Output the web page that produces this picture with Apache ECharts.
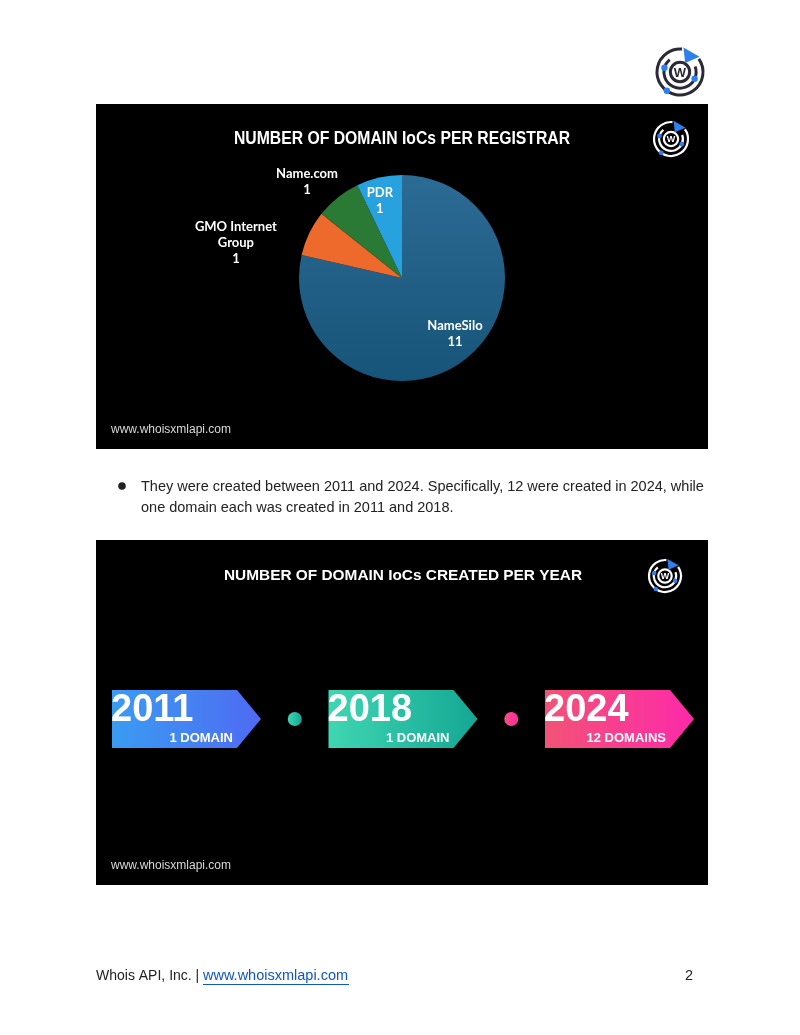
<!DOCTYPE html>
<html>
<head>
<meta charset="utf-8">
<script src="https://cdn.jsdelivr.net/npm/echarts@6/dist/echarts.min.js"></script>
<style>
html, body { margin: 0; padding: 0; background: #fff; }
#main { width: 800px; height: 1035px; }
</style>
</head>
<body>
<div id="main"></div>
<script>
// registrar pie
var registrars = ['NameSilo', 'GMO Internet\nGroup', 'Name.com', 'PDR'];
var registrarCounts = [11, 1, 1, 1];
// creation years timeline
var years = ['2011', '2018', '2024'];
var yearCounts = [1, 1, 12];

var sans = '"Liberation Sans", Arial, sans-serif';
var lato = 'Lato, "Liberation Sans", sans-serif';

var pieColors = [
    { type: 'linear', x: 0, y: 0, x2: 0, y2: 1,
      colorStops: [{ offset: 0, color: '#2c6b94' }, { offset: 1, color: '#175479' }] },
    '#ee6a2c', '#2a7a36', '#28a2de'
];
// nudges for the pie labels (from the 'inside' spot)
var labelShift = [[19, 13], [-117, -12], [-61, -54], [-10, -24]];
var boxColors = [['#3a9cf2', '#4f6af3'], ['#3fd6b2', '#14a794'], ['#f25277', '#fd2aa9']];

function grad(c) {
    return new echarts.graphic.LinearGradient(0, 0, 1, 0, [
        { offset: 0, color: c[0] }, { offset: 1, color: c[1] }
    ]);
}

function deg(a) { return a * Math.PI / 180; }

function makeLogo(cx, cy, s, ring, lw) {
    var blue = '#2f80ed';
    function at(a, r) { return [cx + Math.cos(deg(a)) * r, cy + Math.sin(deg(a)) * r]; }
    var kids = [
        { type: 'arc', shape: { cx: cx, cy: cy, r: s, startAngle: deg(-35), endAngle: deg(275), clockwise: true },
          style: { stroke: ring, lineWidth: lw, fill: null } },
        { type: 'arc', shape: { cx: cx, cy: cy, r: s * 0.7, startAngle: deg(-20), endAngle: deg(230), clockwise: true },
          style: { stroke: ring, lineWidth: lw, fill: null } },
        { type: 'circle', shape: { cx: cx, cy: cy, r: s * 0.42 },
          style: { stroke: ring, lineWidth: lw, fill: null } },
        { type: 'text', style: { text: 'W', x: cx, y: cy + 1, align: 'center', verticalAlign: 'middle',
          fill: ring, font: 'bold ' + Math.round(s * 0.55) + 'px ' + sans } },
        { type: 'polygon', shape: { points: [at(-60, s * 0.45), at(-82, s * 1.08), at(-38, s * 1.08)] },
          style: { fill: blue } },
        { type: 'circle', shape: { cx: at(195, s * 0.7)[0], cy: at(195, s * 0.7)[1], r: s * 0.14 }, style: { fill: blue } },
        { type: 'circle', shape: { cx: at(125, s)[0], cy: at(125, s)[1], r: s * 0.14 }, style: { fill: blue } },
        { type: 'circle', shape: { cx: at(25, s * 0.7)[0], cy: at(25, s * 0.7)[1], r: s * 0.14 }, style: { fill: blue } }
    ];
    return { type: 'group', z: 100, children: kids };
}

function renderArrow(params, api) {
    var i = params.dataIndex;
    var p = api.coord([api.value(0), 1]);
    var h = api.size([0, 1])[1];
    var w = 125, tip = 24;
    var c = boxColors[i];
    var kids = [
        { type: 'polygon',
          shape: { points: [[p[0], p[1]], [p[0] + w, p[1]], [p[0] + w + tip, p[1] + h / 2], [p[0] + w, p[1] + h], [p[0], p[1] + h]] },
          style: { fill: grad(c) } },
        { type: 'text',
          style: { text: years[i], x: p[0] - 1, y: p[1] + 21, verticalAlign: 'middle', fill: '#fff',
                   font: 'bold 38px ' + sans } },
        { type: 'text',
          style: { text: yearCounts[i] + (yearCounts[i] === 1 ? ' DOMAIN' : ' DOMAINS'),
                   x: p[0] + 121, y: p[1] + 48, align: 'right', verticalAlign: 'middle', fill: '#fff',
                   font: 'bold 13px ' + sans } }
    ];
    if (i > 0) {
        var prev = api.coord([api.value(0) - 1, 1]);
        kids.push({ type: 'circle',
            shape: { cx: (prev[0] + w + tip + p[0]) / 2, cy: p[1] + h / 2, r: 7 },
            style: { fill: grad(c) } });
    }
    return { type: 'group', children: kids };
}

var chart = echarts.init(document.getElementById('main'));

var option = {
    backgroundColor: '#fff',
    animation: false,
    graphic: [
        // panels
        { type: 'rect', z: -10, shape: { x: 96, y: 104, width: 612, height: 345 }, style: { fill: '#000' } },
        { type: 'rect', z: -10, shape: { x: 96, y: 540, width: 612, height: 345 }, style: { fill: '#000' } },
        // titles
        { type: 'text', z: 100, x: 402, y: 139, scaleX: 0.875,
          style: { text: 'NUMBER OF DOMAIN IoCs PER REGISTRAR', x: 0, y: 0,
          align: 'center', verticalAlign: 'middle', fill: '#fff', font: 'bold 18px ' + sans } },
        { type: 'text', z: 100, style: { text: 'NUMBER OF DOMAIN IoCs CREATED PER YEAR', x: 403, y: 576,
          align: 'center', verticalAlign: 'middle', fill: '#fff', font: 'bold 15.4px ' + sans } },
        // watermarks
        { type: 'text', z: 100, style: { text: 'www.whoisxmlapi.com', x: 111, y: 430,
          verticalAlign: 'middle', fill: '#d8d8d8', font: '12px ' + sans } },
        { type: 'text', z: 100, style: { text: 'www.whoisxmlapi.com', x: 111, y: 866,
          verticalAlign: 'middle', fill: '#d8d8d8', font: '12px ' + sans } },
        // logos
        makeLogo(680, 72, 23, '#2a2a36', 3),
        makeLogo(671, 139, 17, '#ffffff', 2.2),
        makeLogo(665, 576, 16, '#ffffff', 2.2),
        // bullet text
        { type: 'circle', z: 100, shape: { cx: 122, cy: 486, r: 3.8 }, style: { fill: '#222' } },
        { type: 'text', z: 100, style: {
          text: 'They were created between 2011 and 2024. Specifically, 12 were created in 2024, while\none domain each was created in 2011 and 2018.',
          x: 141, y: 476, lineHeight: 21, verticalAlign: 'top', fill: '#222', font: '14.5px ' + sans } },
        // footer
        { type: 'text', z: 100, style: { text: 'Whois API, Inc. |', x: 96, y: 976, verticalAlign: 'middle',
          fill: '#222', font: '14px ' + sans } },
        { type: 'text', z: 100, style: { text: 'www.whoisxmlapi.com', x: 203, y: 976, verticalAlign: 'middle',
          fill: '#1155cc', font: '14.5px ' + sans } },
        { type: 'line', z: 100, shape: { x1: 203, y1: 984.5, x2: 349, y2: 984.5 }, style: { stroke: '#1155cc', lineWidth: 1 } },
        { type: 'text', z: 100, style: { text: '2', x: 693, y: 976, align: 'right', verticalAlign: 'middle',
          fill: '#222', font: '14.5px ' + sans } }
    ],
    grid: { left: 112, top: 690, width: 433, height: 58 },
    xAxis: { type: 'value', min: 0, max: 2, show: false },
    yAxis: { type: 'value', min: 0, max: 1, show: false },
    series: [
        {
            name: 'Registrars',
            type: 'pie',
            center: [402, 278],
            radius: 103,
            startAngle: 90,
            clockwise: true,
            silent: true,
            label: {
                show: true,
                position: 'inside',
                formatter: '{b}\n{c}',
                color: '#fff',
                fontFamily: lato,
                fontWeight: 'bold',
                fontSize: 13,
                lineHeight: 16
            },
            labelLine: { show: false },
            labelLayout: function (params) {
                var d = labelShift[params.dataIndex];
                return { dx: d[0], dy: d[1] };
            },
            itemStyle: { borderWidth: 0 },
            data: registrars.map(function (n, i) {
                return { name: n, value: registrarCounts[i], itemStyle: { color: pieColors[i] } };
            })
        },
        {
            name: 'Years',
            type: 'custom',
            silent: true,
            renderItem: renderArrow,
            data: years.map(function (y, i) { return [i, yearCounts[i]]; })
        }
    ]
};

chart.setOption(option);
</script>
</body>
</html>
